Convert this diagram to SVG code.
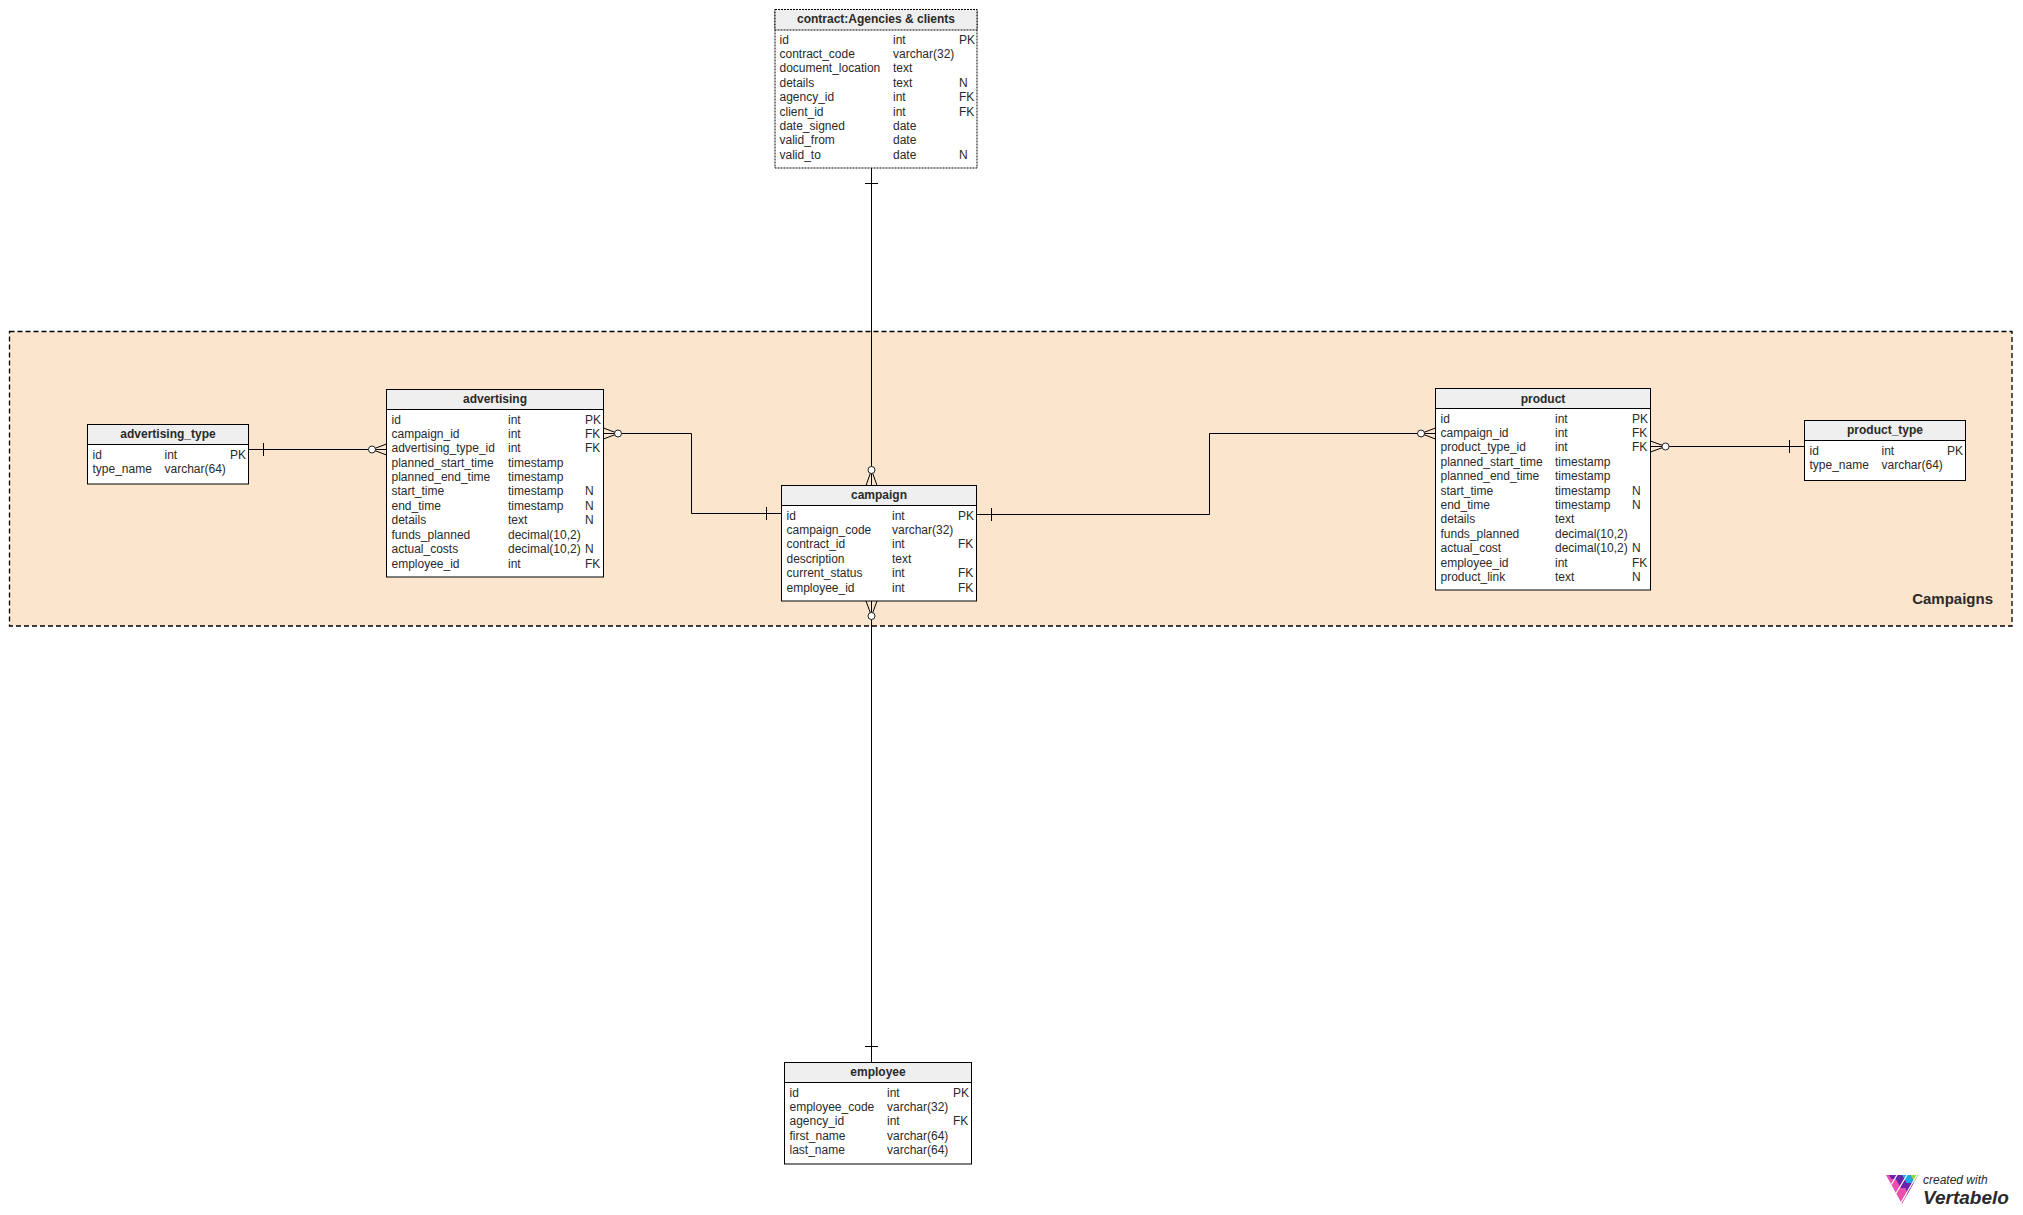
<svg xmlns="http://www.w3.org/2000/svg" width="2023" height="1215" viewBox="0 0 2023 1215">
<style>
text{font-family:"Liberation Sans",Arial,sans-serif;font-size:12px;fill:#2a2a2a}
.t{font-weight:bold;text-anchor:middle}
.box{fill:#fff;stroke:#000;stroke-width:1}
.hd{fill:#efefef;stroke:#000;stroke-width:1}
.dot{stroke-dasharray:2 1}
.l{fill:none;stroke:#000;stroke-width:1}
.c{fill:#fff;stroke:#222;stroke-width:1}
.sep{fill:none;stroke:#fff;stroke-width:1.2}
</style>
<defs><clipPath id="tri"><polygon points="1886,1175 1918,1175 1902,1204"/></clipPath></defs>
<g id="area-campaigns"><rect x="9.5" y="331.5" width="2002.5" height="294.5" fill="#fbe5cd" stroke="#000" stroke-width="1.3" stroke-dasharray="5 3"/>
<text x="1993" y="604" text-anchor="end" style="font-size:15px;font-weight:bold">Campaigns</text></g>
<g id="connectors">
<path class="l" d="M871.5 168V485.5M865 183.5H878"/>
<path class="l" d="M866 485.5L871.5 470L877 485.5"/><circle class="c" cx="871.5" cy="470" r="3.5"/>
<path class="l" d="M871.5 601V1062.5M865 1046.5H878"/>
<path class="l" d="M866 601L871.5 616L877 601"/><circle class="c" cx="871.5" cy="616" r="3.5"/>
<path class="l" d="M603.5 433.5H691.5V513.5H781.5M766.5 507V520"/>
<path class="l" d="M603.5 428L618 433.5L603.5 439"/><circle class="c" cx="618" cy="433.5" r="3.5"/>
<path class="l" d="M976.5 514.5H1209.5V433.5H1435.5M991.5 508V521"/>
<path class="l" d="M1435.5 428L1421 433.5L1435.5 439"/><circle class="c" cx="1421" cy="433.5" r="3.5"/>
<path class="l" d="M1650.5 446.5H1804.5M1789.5 440V453"/>
<path class="l" d="M1650.5 441L1665.5 446.5L1650.5 452"/><circle class="c" cx="1665.5" cy="446.5" r="3.5"/>
<path class="l" d="M248.5 449.5H386.5M263.5 443V456"/>
<path class="l" d="M386.5 444L372 449.5L386.5 455"/><circle class="c" cx="372" cy="449.5" r="3.5"/>
</g>
<g id="contract">
<rect class="box dot" x="775" y="9.5" width="202" height="158.5"/><rect class="hd dot" x="775" y="9.5" width="202" height="20.5"/>
<text class="t" x="876" y="23">contract:Agencies &amp; clients</text>
<text x="779.5" y="44">id</text><text x="893" y="44">int</text><text x="959" y="44">PK</text>
<text x="779.5" y="58">contract_code</text><text x="893" y="58">varchar(32)</text>
<text x="779.5" y="72">document_location</text><text x="893" y="72">text</text>
<text x="779.5" y="87">details</text><text x="893" y="87">text</text><text x="959" y="87">N</text>
<text x="779.5" y="101">agency_id</text><text x="893" y="101">int</text><text x="959" y="101">FK</text>
<text x="779.5" y="116">client_id</text><text x="893" y="116">int</text><text x="959" y="116">FK</text>
<text x="779.5" y="130">date_signed</text><text x="893" y="130">date</text>
<text x="779.5" y="144">valid_from</text><text x="893" y="144">date</text>
<text x="779.5" y="159">valid_to</text><text x="893" y="159">date</text><text x="959" y="159">N</text>
</g>
<g id="campaign">
<rect class="box" x="781.5" y="485.5" width="195" height="115.5"/><rect class="hd" x="781.5" y="485.5" width="195" height="20"/>
<text class="t" x="879" y="499">campaign</text>
<text x="786.5" y="520">id</text><text x="892" y="520">int</text><text x="958" y="520">PK</text>
<text x="786.5" y="534">campaign_code</text><text x="892" y="534">varchar(32)</text>
<text x="786.5" y="548">contract_id</text><text x="892" y="548">int</text><text x="958" y="548">FK</text>
<text x="786.5" y="563">description</text><text x="892" y="563">text</text>
<text x="786.5" y="577">current_status</text><text x="892" y="577">int</text><text x="958" y="577">FK</text>
<text x="786.5" y="592">employee_id</text><text x="892" y="592">int</text><text x="958" y="592">FK</text>
</g>
<g id="advertising">
<rect class="box" x="386.5" y="389.5" width="217" height="187.5"/><rect class="hd" x="386.5" y="389.5" width="217" height="20"/>
<text class="t" x="495" y="403">advertising</text>
<text x="391.5" y="424">id</text><text x="508" y="424">int</text><text x="585" y="424">PK</text>
<text x="391.5" y="438">campaign_id</text><text x="508" y="438">int</text><text x="585" y="438">FK</text>
<text x="391.5" y="452">advertising_type_id</text><text x="508" y="452">int</text><text x="585" y="452">FK</text>
<text x="391.5" y="467">planned_start_time</text><text x="508" y="467">timestamp</text>
<text x="391.5" y="481">planned_end_time</text><text x="508" y="481">timestamp</text>
<text x="391.5" y="495">start_time</text><text x="508" y="495">timestamp</text><text x="585" y="495">N</text>
<text x="391.5" y="510">end_time</text><text x="508" y="510">timestamp</text><text x="585" y="510">N</text>
<text x="391.5" y="524">details</text><text x="508" y="524">text</text><text x="585" y="524">N</text>
<text x="391.5" y="539">funds_planned</text><text x="508" y="539">decimal(10,2)</text>
<text x="391.5" y="553">actual_costs</text><text x="508" y="553">decimal(10,2)</text><text x="585" y="553">N</text>
<text x="391.5" y="568">employee_id</text><text x="508" y="568">int</text><text x="585" y="568">FK</text>
</g>
<g id="advertising_type">
<rect class="box" x="87.5" y="424.5" width="161" height="59.5"/><rect class="hd" x="87.5" y="424.5" width="161" height="20"/>
<text class="t" x="168" y="438">advertising_type</text>
<text x="92.5" y="459">id</text><text x="164.5" y="459">int</text><text x="230" y="459">PK</text>
<text x="92.5" y="473">type_name</text><text x="164.5" y="473">varchar(64)</text>
</g>
<g id="product">
<rect class="box" x="1435.5" y="388.5" width="215" height="201.5"/><rect class="hd" x="1435.5" y="388.5" width="215" height="20"/>
<text class="t" x="1543" y="403">product</text>
<text x="1440.5" y="423">id</text><text x="1555" y="423">int</text><text x="1632" y="423">PK</text>
<text x="1440.5" y="437">campaign_id</text><text x="1555" y="437">int</text><text x="1632" y="437">FK</text>
<text x="1440.5" y="451">product_type_id</text><text x="1555" y="451">int</text><text x="1632" y="451">FK</text>
<text x="1440.5" y="466">planned_start_time</text><text x="1555" y="466">timestamp</text>
<text x="1440.5" y="480">planned_end_time</text><text x="1555" y="480">timestamp</text>
<text x="1440.5" y="495">start_time</text><text x="1555" y="495">timestamp</text><text x="1632" y="495">N</text>
<text x="1440.5" y="509">end_time</text><text x="1555" y="509">timestamp</text><text x="1632" y="509">N</text>
<text x="1440.5" y="523">details</text><text x="1555" y="523">text</text>
<text x="1440.5" y="538">funds_planned</text><text x="1555" y="538">decimal(10,2)</text>
<text x="1440.5" y="552">actual_cost</text><text x="1555" y="552">decimal(10,2)</text><text x="1632" y="552">N</text>
<text x="1440.5" y="567">employee_id</text><text x="1555" y="567">int</text><text x="1632" y="567">FK</text>
<text x="1440.5" y="581">product_link</text><text x="1555" y="581">text</text><text x="1632" y="581">N</text>
</g>
<g id="product_type">
<rect class="box" x="1804.5" y="420.5" width="161" height="60"/><rect class="hd" x="1804.5" y="420.5" width="161" height="20"/>
<text class="t" x="1885" y="434">product_type</text>
<text x="1809.5" y="455">id</text><text x="1881.5" y="455">int</text><text x="1947" y="455">PK</text>
<text x="1809.5" y="469">type_name</text><text x="1881.5" y="469">varchar(64)</text>
</g>
<g id="employee">
<rect class="box" x="784.5" y="1062.5" width="187" height="101.5"/><rect class="hd" x="784.5" y="1062.5" width="187" height="20"/>
<text class="t" x="878" y="1076">employee</text>
<text x="789.5" y="1097">id</text><text x="887" y="1097">int</text><text x="953" y="1097">PK</text>
<text x="789.5" y="1111">employee_code</text><text x="887" y="1111">varchar(32)</text>
<text x="789.5" y="1125">agency_id</text><text x="887" y="1125">int</text><text x="953" y="1125">FK</text>
<text x="789.5" y="1140">first_name</text><text x="887" y="1140">varchar(64)</text>
<text x="789.5" y="1154">last_name</text><text x="887" y="1154">varchar(64)</text>
</g>
<g id="vertabelo-logo">
<g clip-path="url(#tri)">
<rect x="1884" y="1173" width="36" height="33" fill="#ec4fae"/>
<polygon points="1889,1175 1893.5,1175 1896,1179 1891.5,1179" fill="#6a22a8"/>
<polygon points="1893.5,1175 1902,1175 1909.5,1188 1901,1188" fill="#6a22a8"/>
<polygon points="1902,1175 1910.5,1175 1925,1200 1909,1200" fill="#6a22a8"/>
<polygon points="1902,1175 1910.5,1175 1915,1183 1906.5,1183" fill="#1fa8e8"/>
<polygon points="1910.5,1175 1920,1175 1920,1192" fill="#8cd842"/>
<path class="sep" d="M1897 1175L1882 1200M1907 1175L1892 1200M1917 1175L1898 1208"/>
</g>
<text x="1923" y="1184" style="font-size:12px;font-style:italic">created with</text>
<text x="1923" y="1204" style="font-size:19px;font-style:italic;font-weight:bold">Vertabelo</text>
</g>
</svg>
